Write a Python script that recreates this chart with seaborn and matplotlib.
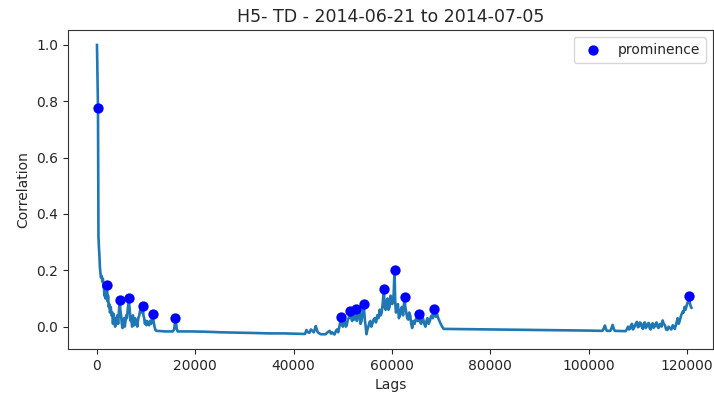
import numpy as np
import pandas as pd
import matplotlib
matplotlib.use("Agg")
import matplotlib.pyplot as plt
import seaborn as sns

# ---- data ----
lags = [
    0, 100, 204, 250, 300, 400, 500, 600, 700, 800, 950, 1100, 1200, 1300,
    1400, 1500, 1600, 1700, 1800, 1900, 2037, 2150, 2250, 2400, 2500, 2650,
    2800, 2950, 3100, 3250, 3400, 3550, 3700, 3850, 4000, 4150, 4300, 4450,
    4620, 4750, 4900, 5050, 5200, 5350, 5500, 5650, 5800, 5950, 6100, 6250,
    6450, 6600, 6700, 6850, 7000, 7150, 7300, 7450, 7600, 7750, 7900, 8050,
    8200, 8400, 8600, 8800, 9000, 9150, 9300, 9450, 9600, 9750, 9900, 10050,
    10200, 10400, 10600, 10800, 11000, 11150, 11300, 11500, 11700, 11900,
    12100, 13000, 14000, 15400, 15700, 15960, 16200, 16400, 17500, 19000,
    22000, 25000, 28000, 30000, 33000, 35000, 38000, 40000, 42300,
    42600, 42900, 43200, 43500, 43800, 44100, 44500, 44700, 44900, 45500,
    46500, 46900, 47300, 47600, 47800, 48300, 48600, 48800, 49050, 49300,
    49650, 49800, 50000, 50200, 50400, 50600, 50800, 51000, 51200, 51550,
    51700, 51900, 52100, 52300, 52500, 52700, 52850, 53000, 53200, 53400,
    53600, 53800, 54050, 54260, 54400, 54500, 54650, 54800, 55000, 55200,
    55400, 55600, 55800, 56000, 56250, 56500, 56750, 57000, 57250, 57500,
    57700, 57900, 58100, 58340, 58500, 58700, 58900, 59100, 59300, 59500,
    59700, 59900, 60050, 60200, 60350, 60510, 60650, 60800, 61000, 61200,
    61400, 61600, 61800, 62000, 62250, 62550, 62700, 62900, 63100, 63300,
    63500, 63700, 63900, 64100, 64350, 64600, 64800, 65000, 65250, 65470,
    65700, 65900, 66100, 66300, 66550, 66800, 67000, 67200, 67450, 67700,
    67900, 68100, 68300, 68530, 68700, 68900, 69150, 69400, 69650, 69900,
    70200, 70500,
    75000, 80000, 85000, 90000, 95000, 100000, 102800, 103100, 103300,
    103500, 103700, 104400, 104650, 104870, 105100, 105300, 107500, 107800,
    108000, 108200, 108400, 108600, 108800, 109000, 109200, 109500, 109800,
    110000, 110200, 110400, 110600, 110800, 111000, 111200, 111400, 111600,
    111800, 112000, 112200, 112400, 112600, 112800, 113000, 113200, 113400,
    113600, 113800, 114000, 114200, 114400, 114600, 114800, 115050, 115250,
    115500, 115750, 116000, 116250, 116500, 116800, 117100, 117300, 117500,
    117800, 118100, 118300, 118500, 118800, 119130, 119300, 119500, 119700,
    120000, 120200, 120480, 120600, 120700, 120800, 120900,
]
correlation = [
    1.00, 0.90, 0.775, 0.55, 0.32, 0.28, 0.25, 0.21, 0.19, 0.175, 0.18, 0.16,
    0.17, 0.14, 0.15, 0.11, 0.13, 0.10, 0.12, 0.11, 0.149, 0.09, 0.11, 0.07,
    0.08, 0.05, 0.07, 0.04, 0.05, 0.01, 0.045, 0.02, 0.00, 0.03, 0.01, 0.04,
    0.01, 0.05, 0.095, 0.06, 0.04, 0.01, -0.005, 0.02, 0.03, 0.00, 0.02,
    0.04, 0.03, 0.06, 0.10, 0.07, 0.05, 0.02, 0.03, 0.00, 0.04, 0.02, 0.005,
    0.03, 0.01, 0.02, 0.00, 0.03, 0.04, 0.06, 0.05, 0.07, 0.075, 0.04, 0.03,
    0.01, 0.02, 0.005, 0.02, 0.01, 0.005, 0.02, 0.01, 0.03, 0.046, 0.02, 0.00,
    -0.012, -0.015, -0.016, -0.017, -0.017, -0.01, 0.032, -0.005, -0.017,
    -0.017, -0.017, -0.018, -0.02, -0.021, -0.022, -0.023, -0.024, -0.024,
    -0.025, -0.026,
    -0.012, -0.02, -0.022, -0.01, -0.015, -0.02, 0.002, -0.01, -0.02, -0.027,
    -0.027, -0.02, -0.015, -0.025, -0.02, -0.028, -0.015, -0.01, -0.02, 0.0,
    0.033, 0.01, 0.0, 0.015, 0.02, 0.0, 0.005, 0.025, 0.03, 0.056, 0.03,
    0.02, 0.04, 0.025, 0.05, 0.063, 0.02, 0.03, 0.045, 0.05, 0.01, 0.02,
    0.06, 0.08, 0.04, 0.02, 0.0, -0.027, -0.01, 0.0, 0.015, 0.02, 0.0, 0.01,
    0.025, 0.03, 0.015, 0.04, 0.03, 0.06, 0.04, 0.05, 0.08, 0.135, 0.07,
    0.06, 0.09, 0.10, 0.06, 0.07, 0.11, 0.10, 0.08, 0.09, 0.12, 0.202, 0.09,
    0.05, 0.06, 0.08, 0.03, 0.04, 0.06, 0.07, 0.04, 0.105, 0.07, 0.05, 0.03,
    0.025, 0.05, 0.04, 0.01, -0.005, 0.02, 0.01, 0.025, 0.03, 0.02, 0.045,
    0.02, 0.01, 0.03, 0.03, 0.01, 0.0, 0.02, 0.03, 0.01, 0.02, 0.035, 0.04,
    0.03, 0.062, 0.04, 0.035, 0.045, 0.03, 0.02, 0.01, 0.0, -0.008,
    -0.009, -0.01, -0.011, -0.012, -0.013, -0.014, -0.015, -0.005, 0.004,
    -0.008, -0.015, -0.015, -0.005, 0.006, -0.008, -0.015, -0.016, -0.008,
    0.0, -0.01, -0.008, 0.005, 0.01, -0.01, -0.005, 0.008, 0.017, -0.002,
    0.0, 0.015, 0.012, 0.0, -0.008, 0.01, 0.015, -0.005, 0.0, 0.01, 0.013,
    -0.005, -0.01, 0.008, 0.012, -0.004, 0.0, 0.01, 0.015, 0.0, -0.005,
    0.008, 0.01, 0.0, 0.022, 0.01, 0.005, -0.01, -0.012, 0.0, -0.005, -0.01,
    0.005, -0.002, -0.008, 0.01, 0.03, 0.01, 0.02, 0.04, 0.054, 0.05, 0.07,
    0.06, 0.08, 0.09, 0.11, 0.08, 0.075, 0.07, 0.067,
]

peak_lags = [204, 2037, 4620, 6450, 9300, 11300, 15960, 49650, 51550, 52700,
             54260, 58340, 60510, 62550, 65470, 68530, 120480]
peak_corr = [0.775, 0.149, 0.095, 0.10, 0.075, 0.046, 0.032, 0.033, 0.056,
             0.063, 0.08, 0.135, 0.202, 0.105, 0.045, 0.062, 0.11]

title = "H5- TD - 2014-06-21 to 2014-07-05"
x_label = "Lags"
y_label = "Correlation"

line_df = pd.DataFrame({"lag": lags, "corr": correlation})
peak_df = pd.DataFrame({"lag": peak_lags, "corr": peak_corr})

plt.rcParams["text.color"] = "#262626"
plt.rcParams["axes.labelcolor"] = "#262626"
plt.rcParams["xtick.color"] = "#262626"
plt.rcParams["ytick.color"] = "#262626"
plt.rcParams["axes.edgecolor"] = "#333333"

fig = plt.figure(figsize=(7.14, 3.94), dpi=100)
ax = fig.add_axes([0.0952, 0.1142, 0.9034, 0.8084])

sns.lineplot(data=line_df, x="lag", y="corr", ax=ax, color="#1f77b4",
             linewidth=1.9, sort=False, estimator=None)
sns.scatterplot(data=peak_df, x="lag", y="corr", ax=ax, color="blue",
                s=55, linewidth=0, label="prominence", zorder=3)

ax.set_title(title, fontsize=12.5)
ax.set_xlabel(x_label)
ax.set_ylabel(y_label)
ax.legend(loc="upper right")
ax.margins(y=0.05)
ax.set_xlim(-5900, 125280)

fig.savefig("out.png", dpi=100)
